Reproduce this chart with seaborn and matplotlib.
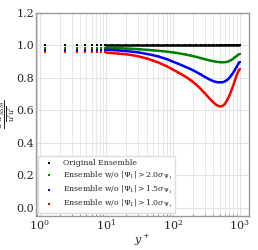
import numpy as np
import pandas as pd
import matplotlib
matplotlib.use("Agg")
import matplotlib.pyplot as plt
import seaborn as sns

# y+ sampling points and ratio values
y_plus = [1.2, 2.4, 3.6, 4.8, 6.0, 7.2, 8.4, 9.6, 12, 15, 20, 25, 30, 40, 50, 60,
          80, 100, 120, 150, 180, 220, 260, 300, 350, 400, 450, 500, 550, 600,
          650, 700, 750, 800, 850, 900, 950, 1000]

original = [1.0] * len(y_plus)

wo_20 = [0.986, 0.986, 0.986, 0.986, 0.986, 0.986, 0.986, 0.986, 0.985, 0.983,
         0.981, 0.979, 0.977, 0.973, 0.970, 0.967, 0.962, 0.957, 0.952, 0.945,
         0.938, 0.930, 0.922, 0.915, 0.908, 0.903, 0.899, 0.897, 0.896, 0.897,
         0.899, 0.904, 0.910, 0.918, 0.927, 0.935, 0.942, 0.950]

wo_15 = [0.974, 0.974, 0.974, 0.974, 0.974, 0.974, 0.974, 0.974, 0.972, 0.969,
         0.965, 0.961, 0.957, 0.948, 0.940, 0.932, 0.916, 0.900, 0.887, 0.870,
         0.856, 0.838, 0.821, 0.806, 0.791, 0.780, 0.774, 0.772, 0.773, 0.778,
         0.787, 0.800, 0.815, 0.832, 0.850, 0.868, 0.885, 0.900]

wo_10 = [0.957, 0.957, 0.957, 0.957, 0.957, 0.957, 0.957, 0.957, 0.953, 0.950,
         0.945, 0.939, 0.933, 0.920, 0.907, 0.895, 0.872, 0.851, 0.833, 0.810,
         0.789, 0.761, 0.732, 0.705, 0.675, 0.650, 0.632, 0.624, 0.626, 0.640,
         0.662, 0.690, 0.720, 0.752, 0.785, 0.815, 0.838, 0.855]

labels = ["Original Ensemble",
          r"Ensemble w/o $|\Psi_1| > 2.0\sigma_{\Psi_1}$",
          r"Ensemble w/o $|\Psi_1| > 1.5\sigma_{\Psi_1}$",
          r"Ensemble w/o $|\Psi_1| > 1.0\sigma_{\Psi_1}$"]
colors = ["black", "green", "blue", "red"]

sns.set_style("whitegrid")
plt.rcParams["font.family"] = ["DejaVu Serif"]
plt.rcParams["mathtext.fontset"] = "dejavuserif"

fig = plt.figure(figsize=(2.58, 2.5), dpi=100)
ax = fig.add_axes([0.14, 0.137, 0.825, 0.811])

for vals, lab, col in zip([original, wo_20, wo_15, wo_10], labels, colors):
    df = pd.DataFrame({"y": y_plus, "r": vals})
    sns.scatterplot(data=df, x="y", y="r", color=col, s=3, marker="s",
                    linewidth=0, label=lab, ax=ax)
    # dense part of the profile looks like a solid band
    dense = df[df["y"] >= 9.6]
    ax.plot(dense["y"], dense["r"], color=col, lw=1.8, solid_capstyle="butt")

ax.set_xscale("log")
ax.set_xlim(0.88, 1380)
ax.set_ylim(-0.05, 1.2)
ax.set_yticks([0.0, 0.2, 0.4, 0.6, 0.8, 1.0, 1.2])
ax.grid(True, which="major", color="#e3e3e3", lw=0.8)
ax.grid(True, which="minor", color="#e3e3e3", lw=0.6)
ax.tick_params(axis="both", which="major", direction="in", labelsize=8,
               length=2.5, color="#888888", pad=1.5)
ax.tick_params(axis="x", which="minor", direction="in", length=1.5,
               color="#888888", bottom=True)
for s in ax.spines.values():
    s.set_color("#999999")
    s.set_linewidth(1.0)

ax.set_xlabel(r"$y^+$", fontsize=8, labelpad=0)
ax.set_ylabel(r"$\frac{\overline{u'u'}_{SSM}}{\overline{u'u'}}$", fontsize=8)
ax.yaxis.set_label_coords(-0.088, 0.5)

leg = ax.legend(loc="lower left", fontsize=5.6, frameon=True, framealpha=1,
                markerscale=0.8, handletextpad=0.8, borderaxespad=0.3,
                labelspacing=0.3, edgecolor="#dddddd", fancybox=False)

fig.savefig("out.png", dpi=100)
